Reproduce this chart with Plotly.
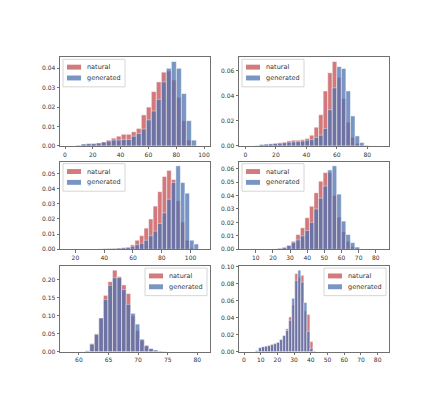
import numpy as np
import plotly.graph_objects as go

# histogram densities: bins = start + width * k
# panel 1 (top left)
P1_START, P1_WIDTH = 0.9, 3.6
P1_NATURAL = [0, 0, 0.0003, 0.0008, 0.001, 0.0012, 0.0015, 0.002, 0.003, 0.004,
              0.005, 0.006, 0.006, 0.0073, 0.009, 0.016, 0.020, 0.028, 0.033, 0.038,
              0.0386, 0.034, 0.025, 0.013, 0.003, 0, 0]
P1_GENERATED = [0, 0, 0.0003, 0.001, 0.0012, 0.0012, 0.0015, 0.002, 0.0025, 0.003,
                0.003, 0.0033, 0.0033, 0.005, 0.0064, 0.0087, 0.0134, 0.018, 0.024, 0.033,
                0.040, 0.0435, 0.040, 0.027, 0.013, 0.003, 0]
P1_XTICKS = [0, 20, 40, 60, 80, 100]

# panel 2 (top right)
P2_START, P2_WIDTH = 0.3, 2.983
P2_NATURAL = [0, 0, 0.0003, 0.0008, 0.001, 0.0015, 0.002, 0.0025, 0.003, 0.004,
              0.0046, 0.0046, 0.005, 0.006, 0.0086, 0.015, 0.025, 0.044, 0.0586, 0.0676,
              0.055, 0.038, 0.019, 0.007, 0.002, 0, 0, 0, 0, 0]
P2_GENERATED = [0, 0, 0.0003, 0.0012, 0.0015, 0.0017, 0.002, 0.0022, 0.0025, 0.003,
                0.0032, 0.0035, 0.0038, 0.0046, 0.005, 0.0068, 0.0086, 0.014, 0.029, 0.0465,
                0.0635, 0.062, 0.044, 0.024, 0.008, 0.0027, 0.0005, 0, 0, 0]
P2_XTICKS = [0, 20, 40, 60, 80]

# panel 3 (middle left)
P3_START, P3_WIDTH = 14.0, 3.157
P3_NATURAL = [0, 0, 0, 0, 0, 0, 0, 0.0002, 0.0003, 0.0004,
              0.0005, 0.0008, 0.001, 0.0015, 0.003, 0.006, 0.009, 0.014, 0.020, 0.0285,
              0.038, 0.048, 0.052, 0.046, 0.032, 0.018, 0.006, 0.001, 0, 0]
P3_GENERATED = [0, 0, 0, 0, 0, 0, 0.0002, 0.0003, 0.0004, 0.0005,
                0.0006, 0.0008, 0.001, 0.0012, 0.002, 0.003, 0.004, 0.006, 0.009, 0.012,
                0.017, 0.024, 0.033, 0.044, 0.055, 0.044, 0.037, 0.006, 0.0035, 0]
P3_XTICKS = [20, 40, 60, 80, 100]

# panel 4 (middle right)
P4_START, P4_WIDTH = 4.2, 2.65
P4_NATURAL = [0, 0, 0, 0, 0, 0, 0.0002, 0.0005, 0.0012, 0.0025,
              0.006, 0.011, 0.016, 0.0235, 0.032, 0.042, 0.0506, 0.057, 0.057, 0.040,
              0.024, 0.013, 0.006, 0.002, 0.0008, 0, 0, 0, 0, 0]
P4_GENERATED = [0, 0, 0, 0, 0, 0, 0.0003, 0.0008, 0.0015, 0.003,
                0.005, 0.007, 0.010, 0.014, 0.020, 0.030, 0.038, 0.047, 0.059, 0.062,
                0.041, 0.021, 0.011, 0.005, 0.0017, 0, 0, 0, 0, 0]
P4_XTICKS = [10, 20, 30, 40, 50, 60, 70, 80]

# panel 5 (bottom left)
P5_START, P5_WIDTH = 58.0, 0.767
P5_NATURAL = [0, 0, 0, 0.0005, 0.002, 0.023, 0.050, 0.094, 0.157, 0.195,
              0.227, 0.209, 0.186, 0.162, 0.100, 0.059, 0.032, 0.015, 0.008, 0.004,
              0.002, 0.001, 0, 0, 0, 0, 0, 0, 0, 0]
P5_GENERATED = [0, 0, 0, 0.0005, 0.003, 0.021, 0.048, 0.094, 0.145, 0.185,
                0.206, 0.206, 0.173, 0.132, 0.107, 0.077, 0.035, 0.018, 0.009, 0.005,
                0.002, 0.001, 0, 0, 0, 0, 0, 0, 0, 0]
P5_XTICKS = [60, 65, 70, 75, 80]

# panel 6 (bottom right)
P6_START, P6_WIDTH = 1.44, 1.81
P6_NATURAL = [0, 0, 0, 0.0008, 0.004, 0.0055, 0.0065, 0.0075, 0.0088, 0.0098,
              0.011, 0.014, 0.019, 0.027, 0.041, 0.055, 0.092, 0.088, 0.090, 0.048,
              0.044, 0.012, 0.001]
P6_GENERATED = [0, 0, 0, 0.0015, 0.005, 0.006, 0.0065, 0.0072, 0.0082, 0.0095,
                0.011, 0.0145, 0.019, 0.025, 0.037, 0.063, 0.084, 0.096, 0.082, 0.058,
                0.024, 0.004, 0.0005]
P6_XTICKS = [0, 10, 20, 30, 40, 50, 60, 70, 80]

SERIES_NAMES = ["natural", "generated"]

W, H = 423, 397
FONT = "DejaVu Sans"
RED = "rgb(196,78,82)"
BLUE = "rgb(76,114,176)"
ALPHA = 0.75

# (data, x range, axes box in px: left, right, top, bottom, legend anchor px, legend side)
PANELS = [
    (P1_START, P1_WIDTH, P1_NATURAL, P1_GENERATED, P1_XTICKS, [-3.6, 104.3], (52, 202, 47, 137), (55, 49), "left"),
    (P2_START, P2_WIDTH, P2_NATURAL, P2_GENERATED, P2_XTICKS, [-4.2, 94.2], (231, 381, 47, 137), (234, 49), "left"),
    (P3_START, P3_WIDTH, P3_NATURAL, P3_GENERATED, P3_XTICKS, [9.3, 113.5], (52, 202, 153, 242), (55, 155), "left"),
    (P4_START, P4_WIDTH, P4_NATURAL, P4_GENERATED, P4_XTICKS, [0.2, 87.7], (231, 381, 153, 242), (234, 155), "left"),
    (P5_START, P5_WIDTH, P5_NATURAL, P5_GENERATED, P5_XTICKS, [56.8, 82.15], (52, 202, 259, 346), (199, 261), "right"),
    (P6_START, P6_WIDTH, P6_NATURAL, P6_GENERATED, P6_XTICKS, [-3.0, 86.8], (231, 381, 259, 346), (378, 261), "right"),
]

fig = go.Figure()
layout = {}
shapes = []
annotations = []
axis_style = dict(
    showline=True, mirror=True, linecolor="#707070", linewidth=0.8,
    ticks="outside", ticklen=2.5, tickwidth=0.8, tickcolor="#707070",
    tickfont=dict(family=FONT, size=6, color="#333"),
    showgrid=False, zeroline=False,
)


def px_x(v):
    return v / W


def px_y(v):
    return 1 - v / H


def add_legend(corner, side):
    # small matplotlib-style legend box: white frame, 2:1 swatches, labels
    bw, bh = 62, 28
    x0 = corner[0] if side == "left" else corner[0] - bw
    y0 = corner[1]
    shapes.append(dict(
        type="rect", xref="paper", yref="paper", layer="above",
        x0=px_x(x0), x1=px_x(x0 + bw), y0=px_y(y0 + bh), y1=px_y(y0),
        fillcolor="rgba(255,255,255,0.85)", line=dict(color="#cccccc", width=0.8),
    ))
    for j, (name, color) in enumerate(zip(SERIES_NAMES, (RED, BLUE))):
        cy = y0 + 8 + j * 11
        shapes.append(dict(
            type="rect", xref="paper", yref="paper", layer="above",
            x0=px_x(x0 + 4), x1=px_x(x0 + 18), y0=px_y(cy + 2.5), y1=px_y(cy - 2.5),
            fillcolor=color, opacity=ALPHA, line=dict(width=0),
        ))
        annotations.append(dict(
            text=name, xref="paper", yref="paper", x=px_x(x0 + 22), y=px_y(cy),
            xanchor="left", yanchor="middle", showarrow=False,
            font=dict(family=FONT, size=6.5, color="#333"),
        ))


for i, (start, width, natural, generated, xticks, xrange, box, leg, side) in enumerate(PANELS, 1):
    sfx = "" if i == 1 else str(i)
    centers = start + width * (np.arange(len(natural)) + 0.5)
    for name, vals, color in zip(SERIES_NAMES, (natural, generated), (RED, BLUE)):
        vals = np.asarray(vals, dtype=float)
        keep = vals > 0
        fig.add_trace(go.Bar(
            x=centers[keep], y=vals[keep], width=width, name=name,
            marker=dict(color=color, line=dict(color="white", width=0.5)),
            opacity=ALPHA, showlegend=False,
            xaxis="x" + sfx, yaxis="y" + sfx,
            hovertemplate=f"{name}<br>%{{x:.1f}}: %{{y:.4f}}<extra></extra>",
        ))

    left, right, top, bottom = box
    ymax = max(max(natural), max(generated)) * 1.05
    layout["xaxis" + sfx] = dict(
        axis_style, domain=[px_x(left), px_x(right)], range=xrange,
        tickvals=xticks, anchor="y" + sfx,
    )
    layout["yaxis" + sfx] = dict(
        axis_style, domain=[px_y(bottom), px_y(top)], range=[0, ymax],
        tickformat=".2f", nticks=7, anchor="x" + sfx,
    )
    add_legend(leg, side)

fig.update_layout(
    width=W, height=H,
    margin=dict(l=0, r=0, t=0, b=0),
    barmode="overlay",
    plot_bgcolor="white", paper_bgcolor="white",
    font=dict(family=FONT, size=6, color="#333"),
    shapes=shapes, annotations=annotations,
    **layout,
)

fig.write_html("out.html")
